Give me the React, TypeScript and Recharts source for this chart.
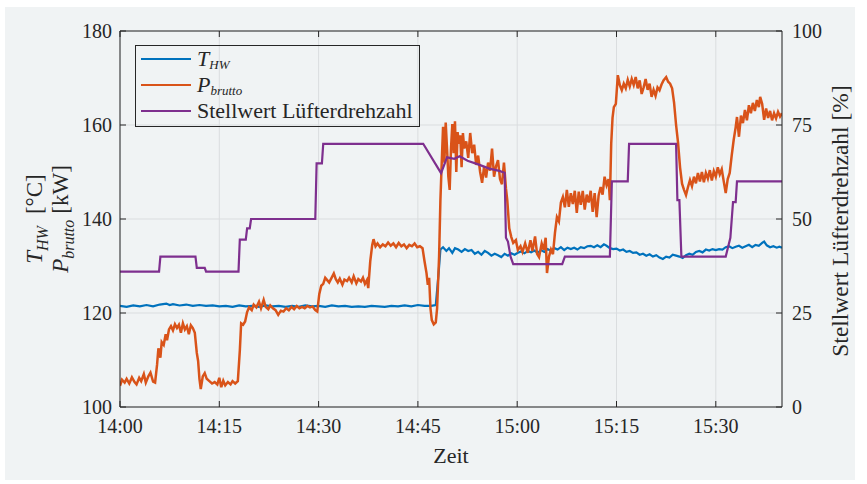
import { CartesianGrid, Line, LineChart, XAxis, YAxis } from "recharts";

// minutes after 14:00
const xTicks = [0, 15, 30, 45, 60, 75, 90];
const xTickLabels = ["14:00", "14:15", "14:30", "14:45", "15:00", "15:15", "15:30"];
const leftTicks = [100, 120, 140, 160, 180];
const rightTicks = [0, 25, 50, 75, 100];

// T_HW [°C]
const tempTime = [
  0, 1, 2, 3, 4, 5, 6, 7, 7.5, 8, 9, 10, 11, 12, 13, 14, 15, 16, 17, 18, 19, 20, 21, 22, 23, 24, 25, 26, 27, 28, 29,
  30, 31, 32, 33, 34, 35, 36, 37, 38, 39, 40, 41, 42, 43, 44, 45, 46, 47, 47.7, 48.1, 48.4, 48.8, 49.3, 49.7, 50.2,
  50.6, 51.1, 51.6, 52.1, 52.6, 53.1, 53.6, 54.1, 54.6, 55.1, 55.6, 56.1, 56.6, 57.1, 57.6, 58.1, 58.6, 59.1, 59.6,
  60.1, 60.6, 61.1, 61.6, 62.1, 62.6, 63.1, 63.6, 64.1, 64.6, 65.1, 65.6, 66.1, 66.6, 67.1, 67.6, 68.1, 68.6, 69.1,
  69.6, 70.1, 70.6, 71.1, 71.6, 72.1, 72.6, 73.1, 73.5, 74, 74.5, 75, 75.5, 76, 76.5, 77, 77.5, 78, 78.5, 79, 79.5,
  80, 80.5, 81, 81.5, 82, 82.5, 83, 83.5, 84, 84.5, 85, 85.5, 86, 86.5, 87, 87.5, 88, 88.5, 89, 89.5, 90, 90.5, 91,
  91.5, 92, 92.5, 93, 93.5, 94, 94.5, 95, 95.5, 96, 96.5, 97, 97.3, 97.7, 98.2, 98.7, 99.2, 99.6, 100,
];
const tempValues = [
  121.5, 121.3, 121.6, 121.4, 121.7, 121.4, 121.8, 122.0, 121.7, 121.9, 121.6, 121.8, 121.5, 121.7, 121.5, 121.6,
  121.4, 121.5, 121.3, 121.6, 121.4, 121.5, 121.3, 121.6, 121.4, 121.5, 121.3, 121.5, 121.3, 121.6, 121.4, 121.5,
  121.3, 121.6, 121.4, 121.5, 121.3, 121.4, 121.3, 121.5, 121.4, 121.3, 121.5, 121.4, 121.6, 121.4, 121.7, 121.5,
  121.5, 121.7, 128, 133.5, 134.0, 133.2, 133.8, 132.8, 133.8, 133.5, 133.0, 133.6, 133.2, 133.4, 132.6, 133.0,
  132.4, 133.2, 132.8, 132.2, 132.6, 132.3, 131.9, 132.6, 132.2, 132.7, 132.4, 132.8, 133.1, 132.7, 133.2, 132.9,
  133.3, 132.8, 133.4, 133.0, 133.6, 133.2, 133.8, 133.5, 134.0, 133.4, 133.9, 133.6, 133.9, 133.5, 134.0, 133.8,
  134.2, 134.3, 134.0, 134.4, 134.0, 134.6, 134.3, 133.8, 133.6, 133.7, 133.3, 133.5, 133.0, 133.2, 132.8, 132.9,
  132.4, 132.6, 132.2, 132.5, 132.0, 132.3, 131.8, 131.5, 132.0, 131.8, 132.4, 132.2, 132.0, 131.7, 132.3, 132.6,
  132.4, 133.0, 133.2, 132.9, 133.5, 133.3, 133.6, 133.4, 133.6, 133.5, 134.0, 134.2, 133.8, 134.1, 134.3, 133.9,
  134.2, 134.5, 134.0, 134.5, 134.3, 134.9, 135.2, 134.4, 134.0, 134.2, 133.9, 134.1, 133.9,
];

// P_brutto [kW]
const powerTime = [
  0, 0.3, 0.7, 1.0, 1.4, 1.8, 2.2, 2.5, 2.9, 3.2, 3.6, 3.9, 4.3, 4.6, 5.0, 5.3, 5.6, 5.8, 6.1, 6.3, 6.6, 6.9, 7.1,
  7.4, 7.7, 8.0, 8.3, 8.6, 8.9, 9.2, 9.5, 9.8, 10.1, 10.4, 10.7, 11.0, 11.3, 11.6, 11.8, 12.0, 12.2, 12.5, 12.8,
  13.1, 13.5, 13.9, 14.3, 14.7, 15.0, 15.3, 15.6, 15.9, 16.3, 16.7, 17.0, 17.4, 17.8, 18.1, 18.3, 18.6, 18.9, 19.2,
  19.5, 19.9, 20.2, 20.6, 21.0, 21.3, 21.7, 22.0, 22.4, 22.7, 23.1, 23.5, 23.9, 24.3, 24.7, 25.1, 25.5, 25.9, 26.3,
  26.7, 27.1, 27.5, 27.9, 28.3, 28.7, 29.1, 29.5, 29.8, 30.1, 30.4, 30.7, 31.0, 31.3, 31.6, 31.9, 32.3, 32.6, 32.9,
  33.2, 33.6, 33.9, 34.3, 34.6, 35.0, 35.3, 35.7, 36.0, 36.4, 36.7, 37.0, 37.3, 37.5, 37.8, 38.1, 38.3, 38.6, 38.9,
  39.3, 39.7, 40.1, 40.5, 40.9, 41.3, 41.7, 42.1, 42.5, 42.9, 43.3, 43.7, 44.1, 44.5, 44.9, 45.3, 45.7, 46.0, 46.3,
  46.5, 46.7, 46.9, 47.1, 47.4, 47.7, 47.9, 48.2, 48.4, 48.6, 48.8, 49.0, 49.2, 49.4, 49.6, 49.8, 50.0, 50.2, 50.4,
  50.6, 50.8, 51.0, 51.2, 51.4, 51.6, 51.8, 52.0, 52.3, 52.6, 52.9, 53.2, 53.5, 53.8, 54.1, 54.4, 54.7, 55.0, 55.3,
  55.6, 55.9, 56.2, 56.5, 56.8, 57.1, 57.4, 57.7, 58.0, 58.3, 58.5, 58.8, 59.1, 59.4, 59.8, 60.1, 60.5, 60.8, 61.2,
  61.6, 62.0, 62.3, 62.7, 63.0, 63.3, 63.7, 64.0, 64.3, 64.5, 64.8, 65.1, 65.4, 65.7, 66.0, 66.3, 66.6, 66.9, 67.2,
  67.5, 67.8, 68.1, 68.4, 68.7, 69.0, 69.3, 69.6, 69.9, 70.2, 70.5, 70.8, 71.1, 71.4, 71.7, 72.0, 72.3, 72.6, 72.9,
  73.2, 73.5, 73.8, 74.0, 74.2, 74.4, 74.6, 74.9, 75.2, 75.5, 75.8, 76.1, 76.4, 76.7, 77.0, 77.3, 77.6, 77.9, 78.2,
  78.5, 78.8, 79.1, 79.4, 79.7, 80.0, 80.3, 80.6, 80.9, 81.2, 81.5, 81.8, 82.1, 82.5, 82.8, 83.1, 83.4, 83.7, 84.0,
  84.3, 84.6, 84.9, 85.2, 85.5, 85.8, 86.1, 86.4, 86.7, 87.0, 87.3, 87.6, 87.9, 88.2, 88.5, 88.8, 89.1, 89.4, 89.7,
  90.0, 90.3, 90.6, 90.9, 91.2, 91.5, 91.8, 92.1, 92.4, 92.7, 93.0, 93.2, 93.5, 93.8, 94.1, 94.4, 94.7, 95.0, 95.3,
  95.6, 95.9, 96.2, 96.5, 96.7, 97.0, 97.3, 97.6, 97.9, 98.2, 98.5, 98.8, 99.1, 99.4, 99.7, 100,
];
const powerValues = [
  104.5, 105.8, 105.2, 106.0, 105.0, 106.3, 105.3, 104.8, 106.2, 105.5, 107.0, 105.2, 106.6, 107.3, 105.4, 105.2,
  109, 112.5, 110.5, 113.8, 113.2, 115.5, 114.2, 116.5, 117.2, 116.3, 117.6, 116.8, 117.5, 115.8, 117.8, 116.5,
  117.2, 115.5, 117.4, 116.8, 115.8, 111.5, 109.8, 106, 103.8, 106.5, 107.2, 106, 105.5, 105.0, 105.3, 104.8,
  106.2, 104.2, 105.6, 104.6, 105.3, 104.8, 105.5, 105.0, 105.5, 112, 117.8, 117.5, 118.2, 120.2, 121.2, 120.6,
  121.8, 121.2, 122.4, 121.0, 122.8, 121.3, 120.8, 121.6, 121.0, 120.6, 119.6, 120.5, 120.3, 121.0, 120.6, 121.3,
  120.8, 121.5, 121.0, 121.3, 121.0, 121.5, 121.2, 121.4, 120.6, 120.3, 124, 125.8, 126.2, 127.5, 127.0, 126.5,
  127.3, 128.4, 127.2, 126.5, 127.3, 126.0, 127.1, 126.8, 127.5, 126.5, 127.8, 126.3, 127.2, 126.7, 127.5, 126.2,
  127.0, 125.3, 131, 134.5, 135.7, 134.2, 134.8, 134.0, 134.6, 134.2, 135.0, 134.3, 134.8, 134.0, 134.9, 134.2,
  134.6, 133.8, 134.5, 134.2, 134.8, 134.0, 134.2, 133.8, 131, 128.5, 126, 127.5, 121, 118.5, 117.6, 118.0, 121,
  132, 144, 152, 159.6, 152, 160.5, 155, 149, 146.2, 155, 160.2, 154, 160.8, 150, 158.5, 156, 157.8, 151, 158.3,
  155, 156.5, 153, 158.3, 154, 155.8, 151.5, 153.5, 150, 147.7, 151.2, 148.8, 152, 150.3, 155, 149, 151.2, 152.5,
  148.5, 147.4, 152, 146.5, 144, 138, 136.2, 134.9, 135.5, 133.4, 134.2, 133.0, 134.8, 132.8, 135.5, 133.2, 136.3,
  132.6, 131.9, 134.8, 133.5, 136.0, 128.5, 132, 133.5, 132.5, 137, 140.4, 139.5, 143.5, 144.7, 142.5, 146.2,
  142.6, 145.5, 143.2, 146.0, 141.3, 145.8, 143.0, 146.0, 142.0, 145.2, 143.5, 146.0, 141.5, 145.5, 140.4, 145.0,
  146.8, 145.2, 149, 147.2, 148.5, 144.0, 156, 161.5, 163.8, 164.5, 170.6, 168.5, 167.4, 168.8, 167.8, 169.6, 168.2,
  169.8, 168.5, 170.2, 167.8, 169.5, 166.6, 168.0, 169.8, 167.5, 168.8, 166.0, 167.5, 166.2, 168.0, 167.4, 168.6,
  169.5, 170.2, 169.2, 168.8, 167.8, 164.7, 160, 156.2, 151, 147.5, 146.2, 145.1, 146.8, 148.3, 147.0, 149.0, 147.6,
  149.8, 148.0, 150.0, 147.8, 149.8, 148.6, 150.4, 148.2, 150.2, 149.0, 151.0, 149.5, 150.6, 148.0, 145.5, 148.5,
  149.8, 153.5, 156.8, 159.5, 161.7, 157.5, 162.0, 160.4, 163.2, 161.0, 164.2, 162.5, 164.7, 163.0, 165.3, 163.8,
  166.0, 164.5, 161.1, 163.5, 161.5, 163.0, 161.0, 162.5, 161.4, 162.8, 161.8, 162.5,
];

// Stellwert Lüfterdrehzahl [%]
const fanTime = [
  0, 5.9, 6.1, 11.4, 11.6, 12.8, 13.0, 17.9, 18.1, 19.0, 19.2, 19.6, 19.8, 29.5, 29.7, 30.5, 30.7, 45.8, 48.5,
  49.4, 50.5, 51.3, 52.5, 54.0, 55.8, 57.3, 58.1, 58.3, 58.6, 59.0, 59.4, 66.8, 67.2, 74.0, 74.3, 76.7, 76.9, 84.0,
  84.2, 84.5, 84.8, 91.5, 92.2, 92.6, 93.0, 93.2, 100,
];
const fanValues = [
  36, 36, 40, 40, 37, 37, 36, 36, 44.5, 44.5, 47.5, 47.5, 50, 50, 64.8, 64.8, 70, 70, 62.2, 66.4, 66.0, 66.7, 65.5,
  64.6, 63.4, 62.8, 62.3, 45, 44, 40, 38, 38, 40, 40, 60, 60, 70, 70, 55, 55, 40, 40, 45, 54.5, 54.5, 60, 60,
];

const series = [
  { key: "temp", color: "#0072BD", axis: "left", width: 2.2, time: tempTime, values: tempValues },
  { key: "power", color: "#D95319", axis: "left", width: 2.5, time: powerTime, values: powerValues },
  { key: "fan", color: "#7E2F8E", axis: "right", width: 2.2, time: fanTime, values: fanValues },
];

const FONT = "Liberation Serif, serif";
const INK = "#262626";
const BG = "#f0f3f4";

const tickStyle = { fill: INK, fontSize: 20, fontFamily: FONT };
const subStyle = { fontSize: 13, lineHeight: 0, verticalAlign: "-3px" };

const legendNames = [
  <span key="t">
    <i>T</i>
    <sub style={subStyle}>
      <i>HW</i>
    </sub>
  </span>,
  <span key="p">
    <i>P</i>
    <sub style={subStyle}>
      <i>brutto</i>
    </sub>
  </span>,
  <span key="s">Stellwert Lüfterdrehzahl</span>,
];

export default function App() {
  return (
    <div
      style={{
        position: "absolute",
        left: 0,
        top: 0,
        width: 867,
        height: 484,
        background: "#ffffff",
        fontFamily: FONT,
        color: INK,
      }}
    >
      <div
        style={{ position: "absolute", left: 5, top: 7, width: 850, height: 473, background: BG }}
      />

      <div style={{ position: "absolute", left: 0, top: 0 }}>
        <LineChart width={867} height={484} margin={{ top: 30, right: 35, bottom: 47, left: 70 }}>
          <CartesianGrid stroke="#dadddf" strokeWidth={1} yAxisId="left" />
          <XAxis
            type="number"
            dataKey="t"
            domain={[0, 100]}
            ticks={xTicks}
            tickFormatter={(v) => xTickLabels[xTicks.indexOf(v)]}
            height={30}
            tickSize={-6}
            tickMargin={18}
            tick={tickStyle}
            stroke={INK}
            allowDataOverflow
          />
          <XAxis
            xAxisId="top"
            orientation="top"
            type="number"
            dataKey="t"
            domain={[0, 100]}
            ticks={xTicks}
            tickFormatter={() => ""}
            height={1}
            tickSize={-6}
            stroke={INK}
            allowDataOverflow
          />
          <YAxis
            yAxisId="left"
            domain={[100, 180]}
            ticks={leftTicks}
            width={50}
            tickSize={-6}
            tickMargin={14}
            tick={tickStyle}
            stroke={INK}
            allowDataOverflow
          />
          <YAxis
            yAxisId="right"
            orientation="right"
            domain={[0, 100]}
            ticks={rightTicks}
            width={50}
            tickSize={-6}
            tickMargin={16}
            tick={tickStyle}
            stroke={INK}
            allowDataOverflow
          />
          {series.map((s) => (
            <Line
              key={s.key}
              data={s.time.map((t, i) => ({ t, v: s.values[i] }))}
              dataKey="v"
              yAxisId={s.axis}
              type="linear"
              stroke={s.color}
              strokeWidth={s.width}
              dot={false}
              activeDot={false}
              isAnimationActive={false}
            />
          ))}
        </LineChart>
      </div>

      {/* legend */}
      <div
        style={{
          position: "absolute",
          left: 135,
          top: 45,
          width: 285,
          height: 82,
          border: `1px solid ${INK}`,
          boxSizing: "border-box",
          fontSize: 22,
        }}
      >
        {series.map((s, i) => (
          <div
            key={s.key}
            style={{
              position: "absolute",
              left: 5,
              top: 2 + i * 26,
              height: 22,
              lineHeight: "22px",
              display: "flex",
              alignItems: "center",
              whiteSpace: "nowrap",
            }}
          >
            <span style={{ display: "inline-block", width: 50, height: 2.2, background: s.color, marginRight: 6 }} />
            {legendNames[i]}
          </div>
        ))}
      </div>

      {/* left axis label */}
      <div
        style={{
          position: "absolute",
          left: 48 - 110,
          top: 219 - 26,
          width: 220,
          height: 52,
          transform: "rotate(-90deg)",
          textAlign: "center",
          fontSize: 23,
          lineHeight: "26px",
          whiteSpace: "nowrap",
        }}
      >
        <div>
          <i>T</i>
          <sub style={{ fontSize: 16, lineHeight: 0 }}>
            <i>HW</i>
          </sub>
          <span style={{ marginLeft: 12 }}>[°C]</span>
        </div>
        <div>
          <i>P</i>
          <sub style={{ fontSize: 16, lineHeight: 0 }}>
            <i>brutto</i>
          </sub>
          <span style={{ marginLeft: 6 }}>[kW]</span>
        </div>
      </div>

      {/* right axis label */}
      <div
        style={{
          position: "absolute",
          left: 840 - 170,
          top: 221 - 13,
          width: 340,
          height: 26,
          transform: "rotate(-90deg)",
          textAlign: "center",
          fontSize: 23.5,
          lineHeight: "26px",
          whiteSpace: "nowrap",
        }}
      >
        Stellwert Lüfterdrehzahl [%]
      </div>

      {/* x axis label */}
      <div
        style={{
          position: "absolute",
          left: 451 - 50,
          top: 456 - 13,
          width: 100,
          height: 26,
          textAlign: "center",
          fontSize: 22,
          lineHeight: "26px",
        }}
      >
        Zeit
      </div>
    </div>
  );
}
